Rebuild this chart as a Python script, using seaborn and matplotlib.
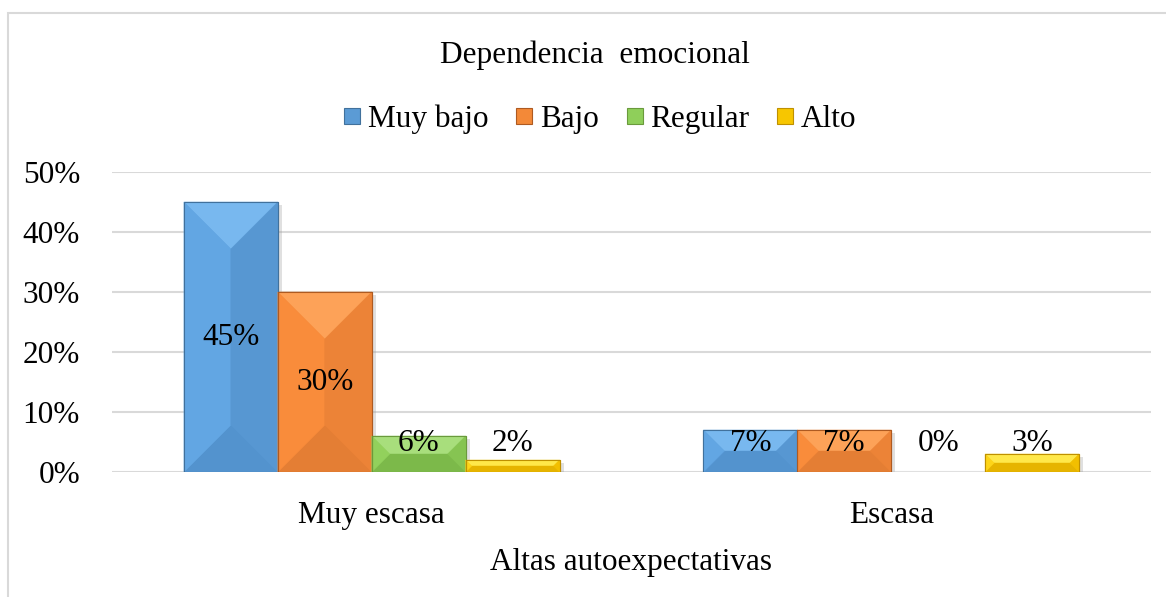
import pandas as pd
import matplotlib.pyplot as plt
import seaborn as sns
from matplotlib.patches import Polygon, Rectangle
from matplotlib.lines import Line2D
from matplotlib.ticker import PercentFormatter
import matplotlib.patheffects as pe

# Data
categories = ['Muy escasa', 'Escasa']
levels = ['Muy bajo', 'Bajo', 'Regular', 'Alto']
muy_bajo = [0.45, 0.07]
bajo = [0.30, 0.07]
regular = [0.06, 0.00]
alto = [0.02, 0.03]

data = pd.DataFrame({
    'Categoria': categories * 4,
    'Nivel': [l for l in levels for _ in categories],
    'Valor': muy_bajo + bajo + regular + alto,
})

# base, top, left, right, bottom, edge
shades = {
    'Muy bajo': ['#5B9BD5', '#78B8EF', '#62A6E3', '#5797D2', '#5393CE', '#41719C'],
    'Bajo':     ['#F38938', '#FDA258', '#F98C3B', '#EC8337', '#E47E34', '#AE5A21'],
    'Regular':  ['#8FCF5A', '#A8DE7C', '#92D15C', '#86C452', '#7CB94A', '#6A9A3C'],
    'Alto':     ['#F7C600', '#FFE84A', '#FDD418', '#F2BF00', '#E6B400', '#BF9000'],
}

sns.set_style('white')
plt.rcParams['font.family'] = ['Liberation Serif', 'DejaVu Serif']
plt.rcParams['text.color'] = 'black'
plt.rcParams['xtick.color'] = 'black'
plt.rcParams['ytick.color'] = 'black'
plt.rcParams['axes.labelcolor'] = 'black'
FS = 22.5

fig, ax = plt.subplots(figsize=(11.66, 5.97), dpi=100)
fig.subplots_adjust(left=112 / 1166, right=1151 / 1166, bottom=1 - 472 / 597, top=1 - 172 / 597)

palette = {k: v[0] for k, v in shades.items()}
sns.barplot(data=data, x='Categoria', y='Valor', hue='Nivel', hue_order=levels,
            palette=palette, width=0.723, gap=0, ax=ax, legend=False, saturation=1,
            zorder=3)

ax.set_ylim(0, 0.5)
ax.set_xlim(-0.5, 1.5)
ax.yaxis.set_major_formatter(PercentFormatter(1.0, decimals=0))
ax.set_yticks([0, 0.1, 0.2, 0.3, 0.4, 0.5])
ax.grid(axis='y', color='#D9D9D9', lw=1.5, zorder=0)
for s in ax.spines.values():
    s.set_visible(False)
ax.tick_params(axis='y', length=0, pad=23, labelsize=FS, labelcolor='black')
ax.tick_params(axis='x', length=0, pad=21, labelsize=FS, labelcolor='black')
ax.set_ylabel('')
ax.set_xlabel('Altas autoexpectativas', fontsize=FS, labelpad=13, color='black')

# bevel faces on each bar, built from the bar geometry
fig.canvas.draw()
sx = ax.transData.transform((1, 0))[0] - ax.transData.transform((0, 0))[0]
sy = ax.transData.transform((0, 1))[1] - ax.transData.transform((0, 0))[1]
bars = [p for p in ax.patches if isinstance(p, Rectangle)]
for i, p in enumerate(bars):
    lvl = levels[i // len(categories)]
    base, top, left, right, bottom, edge = shades[lvl]
    x0, y0, w, h = p.get_x(), p.get_y(), p.get_width(), p.get_height()
    if h <= 0:
        continue
    x1, y1 = x0 + w, y0 + h
    d = min(w * sx, h * sy) / 2
    dx, dy = d / sx, d / sy
    p.set_edgecolor(edge)
    p.set_linewidth(0.8)
    p.set_path_effects([pe.SimplePatchShadow(offset=(3, -2), shadow_rgbFace='#999999', alpha=0.3), pe.Normal()])
    faces = [
        ([(x0, y1), (x1, y1), (x1 - dx, y1 - dy), (x0 + dx, y1 - dy)], top),
        ([(x0, y0), (x1, y0), (x1 - dx, y0 + dy), (x0 + dx, y0 + dy)], bottom),
        ([(x0, y0), (x0, y1), (x0 + dx, y1 - dy), (x0 + dx, y0 + dy)], left),
        ([(x1, y0), (x1, y1), (x1 - dx, y1 - dy), (x1 - dx, y0 + dy)], right),
    ]
    for pts, c in faces:
        ax.add_patch(Polygon(pts, closed=True, fc=c, ec=c, lw=0.3, zorder=3.1))
    ax.add_patch(Rectangle((x0, y0), w, h, fill=False, ec=edge, lw=0.8, zorder=3.2))

# data labels
for i, p in enumerate(bars):
    v = p.get_height()
    xc = p.get_x() + p.get_width() / 2
    ax.text(xc, max(v / 2, 0.048), f'{v:.0%}', ha='center', va='center',
            fontsize=FS, color='black', zorder=5)

# title and legend
fig.text(595 / 1166, 1 - 55 / 597, 'Dependencia  emocional', ha='center', va='center', fontsize=FS)
handles = [Line2D([], [], marker='s', ls='none', markersize=11,
                  markerfacecolor=shades[l][0], markeredgecolor=shades[l][5], markeredgewidth=0.8)
           for l in levels]
fig.legend(handles, levels, loc='center', bbox_to_anchor=(598 / 1166, 1 - 119 / 597), ncol=4,
           frameon=False, fontsize=FS, handletextpad=0.1, columnspacing=0.75, handlelength=0.8)

# chart border
fig.add_artist(Rectangle((8 / 1166, -0.05), 1.2, 1.05 - 13 / 597, transform=fig.transFigure,
                         fill=False, ec='#D9D9D9', lw=1.5))

fig.savefig('out.png', dpi=100)
